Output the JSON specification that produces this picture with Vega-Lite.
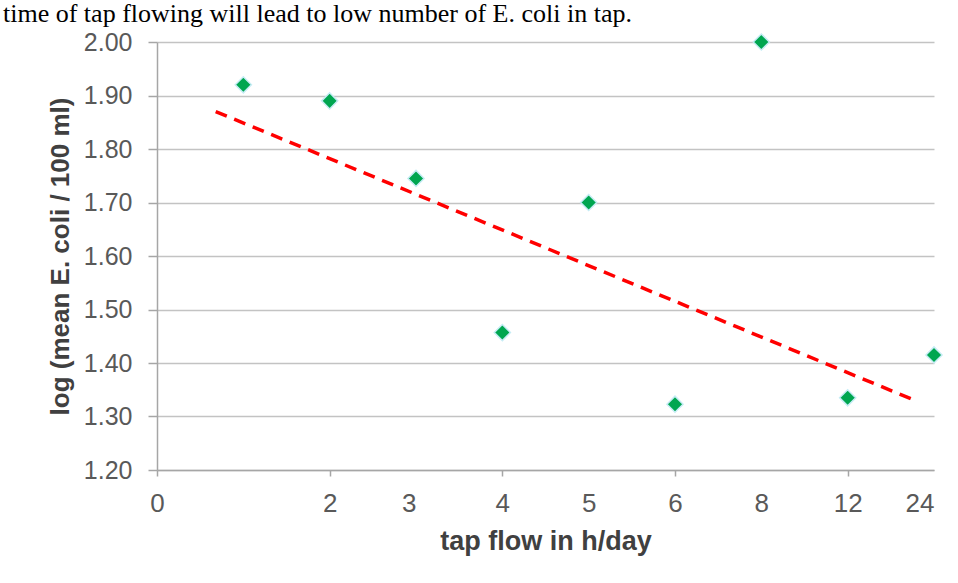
{
  "$schema": "https://vega.github.io/schema/vega-lite/v6.json",
  "width": 777,
  "height": 428,
  "autosize": {"type": "none"},
  "padding": {"left": 157, "top": 42, "right": 24, "bottom": 113},
  "background": "white",
  "title": {
    "text": "time of tap flowing will lead to low number of E. coli in tap.",
    "anchor": "start",
    "frame": "group",
    "font": "Liberation Serif",
    "fontSize": 26,
    "fontWeight": "normal",
    "color": "#000000",
    "baseline": "alphabetic",
    "offset": -18,
    "dx": -154
  },
  "datasets": {
    "points": [
      {"slot": 1, "log_ecoli": 1.92},
      {"slot": 2, "log_ecoli": 1.89},
      {"slot": 3, "log_ecoli": 1.745},
      {"slot": 4, "log_ecoli": 1.457},
      {"slot": 5, "log_ecoli": 1.70},
      {"slot": 6, "log_ecoli": 1.323},
      {"slot": 7, "log_ecoli": 2.00},
      {"slot": 8, "log_ecoli": 1.335},
      {"slot": 9, "log_ecoli": 1.415}
    ],
    "trend": [
      {"slot": 0.68, "log_ecoli": 1.87},
      {"slot": 8.78, "log_ecoli": 1.33}
    ]
  },
  "encoding": {
    "x": {
      "field": "slot",
      "type": "quantitative",
      "scale": {"domain": [0, 9], "nice": false, "zero": false},
      "axis": {
        "values": [0, 2, 3, 4, 5, 6, 7, 8, 9],
        "labelExpr": "datum.value == 7 ? '8' : datum.value == 8 ? '12' : datum.value == 9 ? '24' : datum.label",
        "title": "tap flow in h/day",
        "grid": false,
        "domainColor": "#a6a6a6",
        "domainWidth": 1.5,
        "tickColor": {"condition": {"test": "datum.value % 2 == 1", "value": "transparent"}, "value": "#a6a6a6"},
        "tickSize": 6,
        "tickWidth": 1.5,
        "labelPadding": 14,
        "labelFont": "Liberation Sans",
        "labelFontSize": 26,
        "labelColor": "#595959",
        "labelAlign": {"condition": {"test": "datum.value == 9 || datum.value == 3", "value": "right"}, "value": "center"},
        "labelOverlap": false,
        "labelFlush": false,
        "titleFont": "Liberation Sans",
        "titleFontSize": 27,
        "titleFontWeight": "bold",
        "titleColor": "#404040",
        "titlePadding": 12
      }
    },
    "y": {
      "field": "log_ecoli",
      "type": "quantitative",
      "scale": {"domain": [1.2, 2.0], "nice": false, "zero": false},
      "axis": {
        "values": [1.2, 1.3, 1.4, 1.5, 1.6, 1.7, 1.8, 1.9, 2.0],
        "format": ".2f",
        "title": "log (mean E. coli / 100 ml)",
        "grid": true,
        "gridColor": "#c3c3c3",
        "gridWidth": 1.5,
        "domainColor": "#a6a6a6",
        "domainWidth": 1.5,
        "tickColor": "#a6a6a6",
        "tickSize": 9,
        "tickWidth": 1.5,
        "labelPadding": 16,
        "labelFont": "Liberation Sans",
        "labelFontSize": 25,
        "labelColor": "#595959",
        "titleFont": "Liberation Sans",
        "titleFontSize": 26,
        "titleFontWeight": "bold",
        "titleColor": "#404040",
        "titlePadding": 10
      }
    }
  },
  "layer": [
    {
      "data": {"name": "trend"},
      "mark": {"type": "line", "color": "#ff0000", "strokeWidth": 3.5, "strokeDash": [12, 8]}
    },
    {
      "data": {"name": "points"},
      "mark": {"type": "point", "shape": "diamond", "filled": true, "size": 260, "color": "#00a650", "stroke": "#c6ecf5", "strokeWidth": 1.5, "opacity": 1}
    }
  ],
  "config": {"view": {"stroke": null}}
}
